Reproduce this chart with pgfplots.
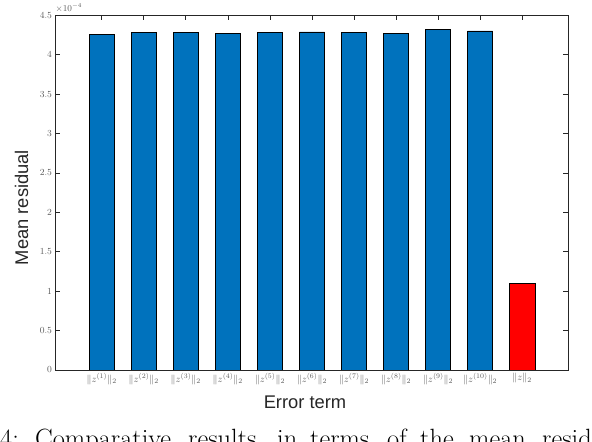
\documentclass[border=0pt]{standalone}
\usepackage{fontspec}
\newfontfamily\lsans{Liberation Sans}
\usepackage{pgfplots}
\pgfplotsset{compat=1.18}
\definecolor{mblue}{rgb}{0,0.447,0.741}
\definecolor{axgray}{rgb}{0.15,0.15,0.15}

\begin{document}
\begin{tikzpicture}
\path[use as bounding box, clip] (0,0) rectangle (592bp,442bp);
\begin{axis}[
  at={(55bp,72bp)}, anchor=south west,
  scale only axis, width=513bp, height=354.7bp,
  xmin=-0.11, xmax=12.09, ymin=0, ymax=4.5,
  ybar, bar width=0.6, bar shift=0pt,
  xtick={1,2,3,4,5,6,7,8,9,10,11},
  xticklabels={$\|z^{(1)}\|_2$,$\|z^{(2)}\|_2$,$\|z^{(3)}\|_2$,$\|z^{(4)}\|_2$,$\|z^{(5)}\|_2$,$\|z^{(6)}\|_2$,$\|z^{(7)}\|_2$,$\|z^{(8)}\|_2$,$\|z^{(9)}\|_2$,$\|z^{(10)}\|_2$,$\|z\|_2$},
  ytick={0,0.5,1,1.5,2,2.5,3,3.5,4,4.5},
  yticklabels={0,0.5,1,1.5,2,2.5,3,3.5,4,4.5},
  tick align=inside, xtick pos=both, ytick pos=both, major tick length=5bp,
  axis line style={axgray, line width=0.6bp},
  every tick/.style={axgray, line width=0.6bp},
  tick label style={text=black!65, font=\fontsize{9.3}{11}\selectfont},
  yticklabel style={xshift=0.5bp},
  xticklabel style={font=\fontsize{10.3}{12}\selectfont},
]
% mean residual, in units of 1e-4
\addplot[fill=mblue, draw=black, line width=0.5bp] coordinates {
  (1,4.26) (2,4.285) (3,4.285) (4,4.273) (5,4.285)
  (6,4.29) (7,4.285) (8,4.273) (9,4.324) (10,4.302)};
\addplot[fill=red, draw=black, line width=0.5bp] coordinates {(11,1.10)};
\end{axis}
\node[anchor=base west, inner sep=0pt, text=black!65, font=\fontsize{9}{10}\selectfont] at (55.5bp,430.5bp) {$\times 10^{-4}$};
\node[anchor=base, inner sep=0pt, text=axgray, font=\lsans\fontsize{18.4}{22}\selectfont] at (305bp,34bp) {Error term};
\node[anchor=base, rotate=90, inner sep=0pt, text=axgray, font=\lsans\fontsize{18.4}{22}\selectfont] at (28bp,234.5bp) {Mean residual};
% caption line, cut by the frame as in the source figure
\foreach \x/\w in {0/4:, 35/Comparative, 188/results, 277/in, 310/terms, 387/of, 420/the, 469/mean, 542/resid}
  \node[anchor=base west, inner sep=0pt, font=\fontsize{26.5}{30}\selectfont] at (\x bp,-5.5bp) {\w};
\end{tikzpicture}
\end{document}
